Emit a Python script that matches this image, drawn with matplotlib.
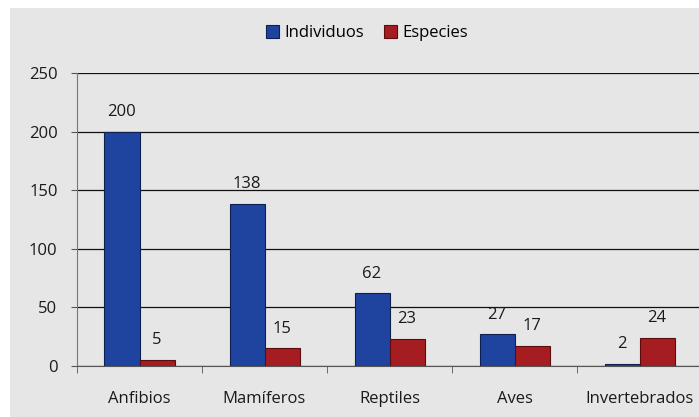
import numpy as np
import matplotlib.pyplot as plt
from matplotlib.patches import Rectangle

plt.rcParams['font.family'] = ['Open Sans', 'DejaVu Sans']

categories = ["Anfibios", "Mamíferos", "Reptiles", "Aves", "Invertebrados"]
individuos = [200, 138, 62, 27, 2]
especies = [5, 15, 23, 17, 24]

fig = plt.figure(figsize=(6.99, 4.17), dpi=100)
fig.patch.set_facecolor("white")
# gray panel behind the chart
fig.patches.append(Rectangle((10 / 699, 0), 1, 409 / 417, transform=fig.transFigure,
                             facecolor="#e6e6e6", edgecolor="none", zorder=-10))

ax = fig.add_axes([77 / 699, 51 / 417, 625 / 699, 293 / 417])
ax.set_facecolor("none")

x = np.arange(len(categories))
w = 0.28
b1 = ax.bar(x - w / 2, individuos, w, color="#1f44a0", edgecolor="#0e2050", linewidth=0.8,
            label="Individuos", zorder=3)
b2 = ax.bar(x + w / 2, especies, w, color="#a51d21", edgecolor="#5a0c0e", linewidth=0.8,
            label="Especies", zorder=3)

for bars in (b1, b2):
    for r in bars:
        ax.annotate(f"{int(r.get_height())}", (r.get_x() + r.get_width() / 2, r.get_height()),
                    xytext=(0, 8.5), textcoords="offset points", ha="center", va="bottom",
                    fontsize=12, color="#1a1a1a")

ax.set_ylim(0, 250)
ax.set_yticks(range(0, 251, 50))
ax.set_xlim(-0.5, len(categories) - 0.5)
ax.set_xticks(x)
ax.set_xticklabels(categories)
ax.set_xticks(np.arange(-0.5, len(categories), 1), minor=True)
ax.tick_params(axis="x", which="major", length=0, pad=18, labelsize=12, labelcolor="#1a1a1a")
ax.tick_params(axis="x", which="minor", length=5, direction="out", color="#555555")
ax.tick_params(axis="y", length=4, direction="out", color="#555555", pad=10,
               labelsize=12, labelcolor="#1a1a1a")
ax.grid(axis="y", color="#111111", linewidth=0.9, zorder=1)

for s in ("top", "right"):
    ax.spines[s].set_visible(False)
ax.spines["left"].set_color("#777777")
ax.spines["bottom"].set_color("#555555")

fig.legend(handles=[b1, b2], loc="center", bbox_to_anchor=(0.525, 0.92), ncol=2,
           frameon=False, fontsize=12, handlelength=0.8, handleheight=0.8,
           handletextpad=0.3, columnspacing=1.2)

fig.savefig("out.png", dpi=100)
